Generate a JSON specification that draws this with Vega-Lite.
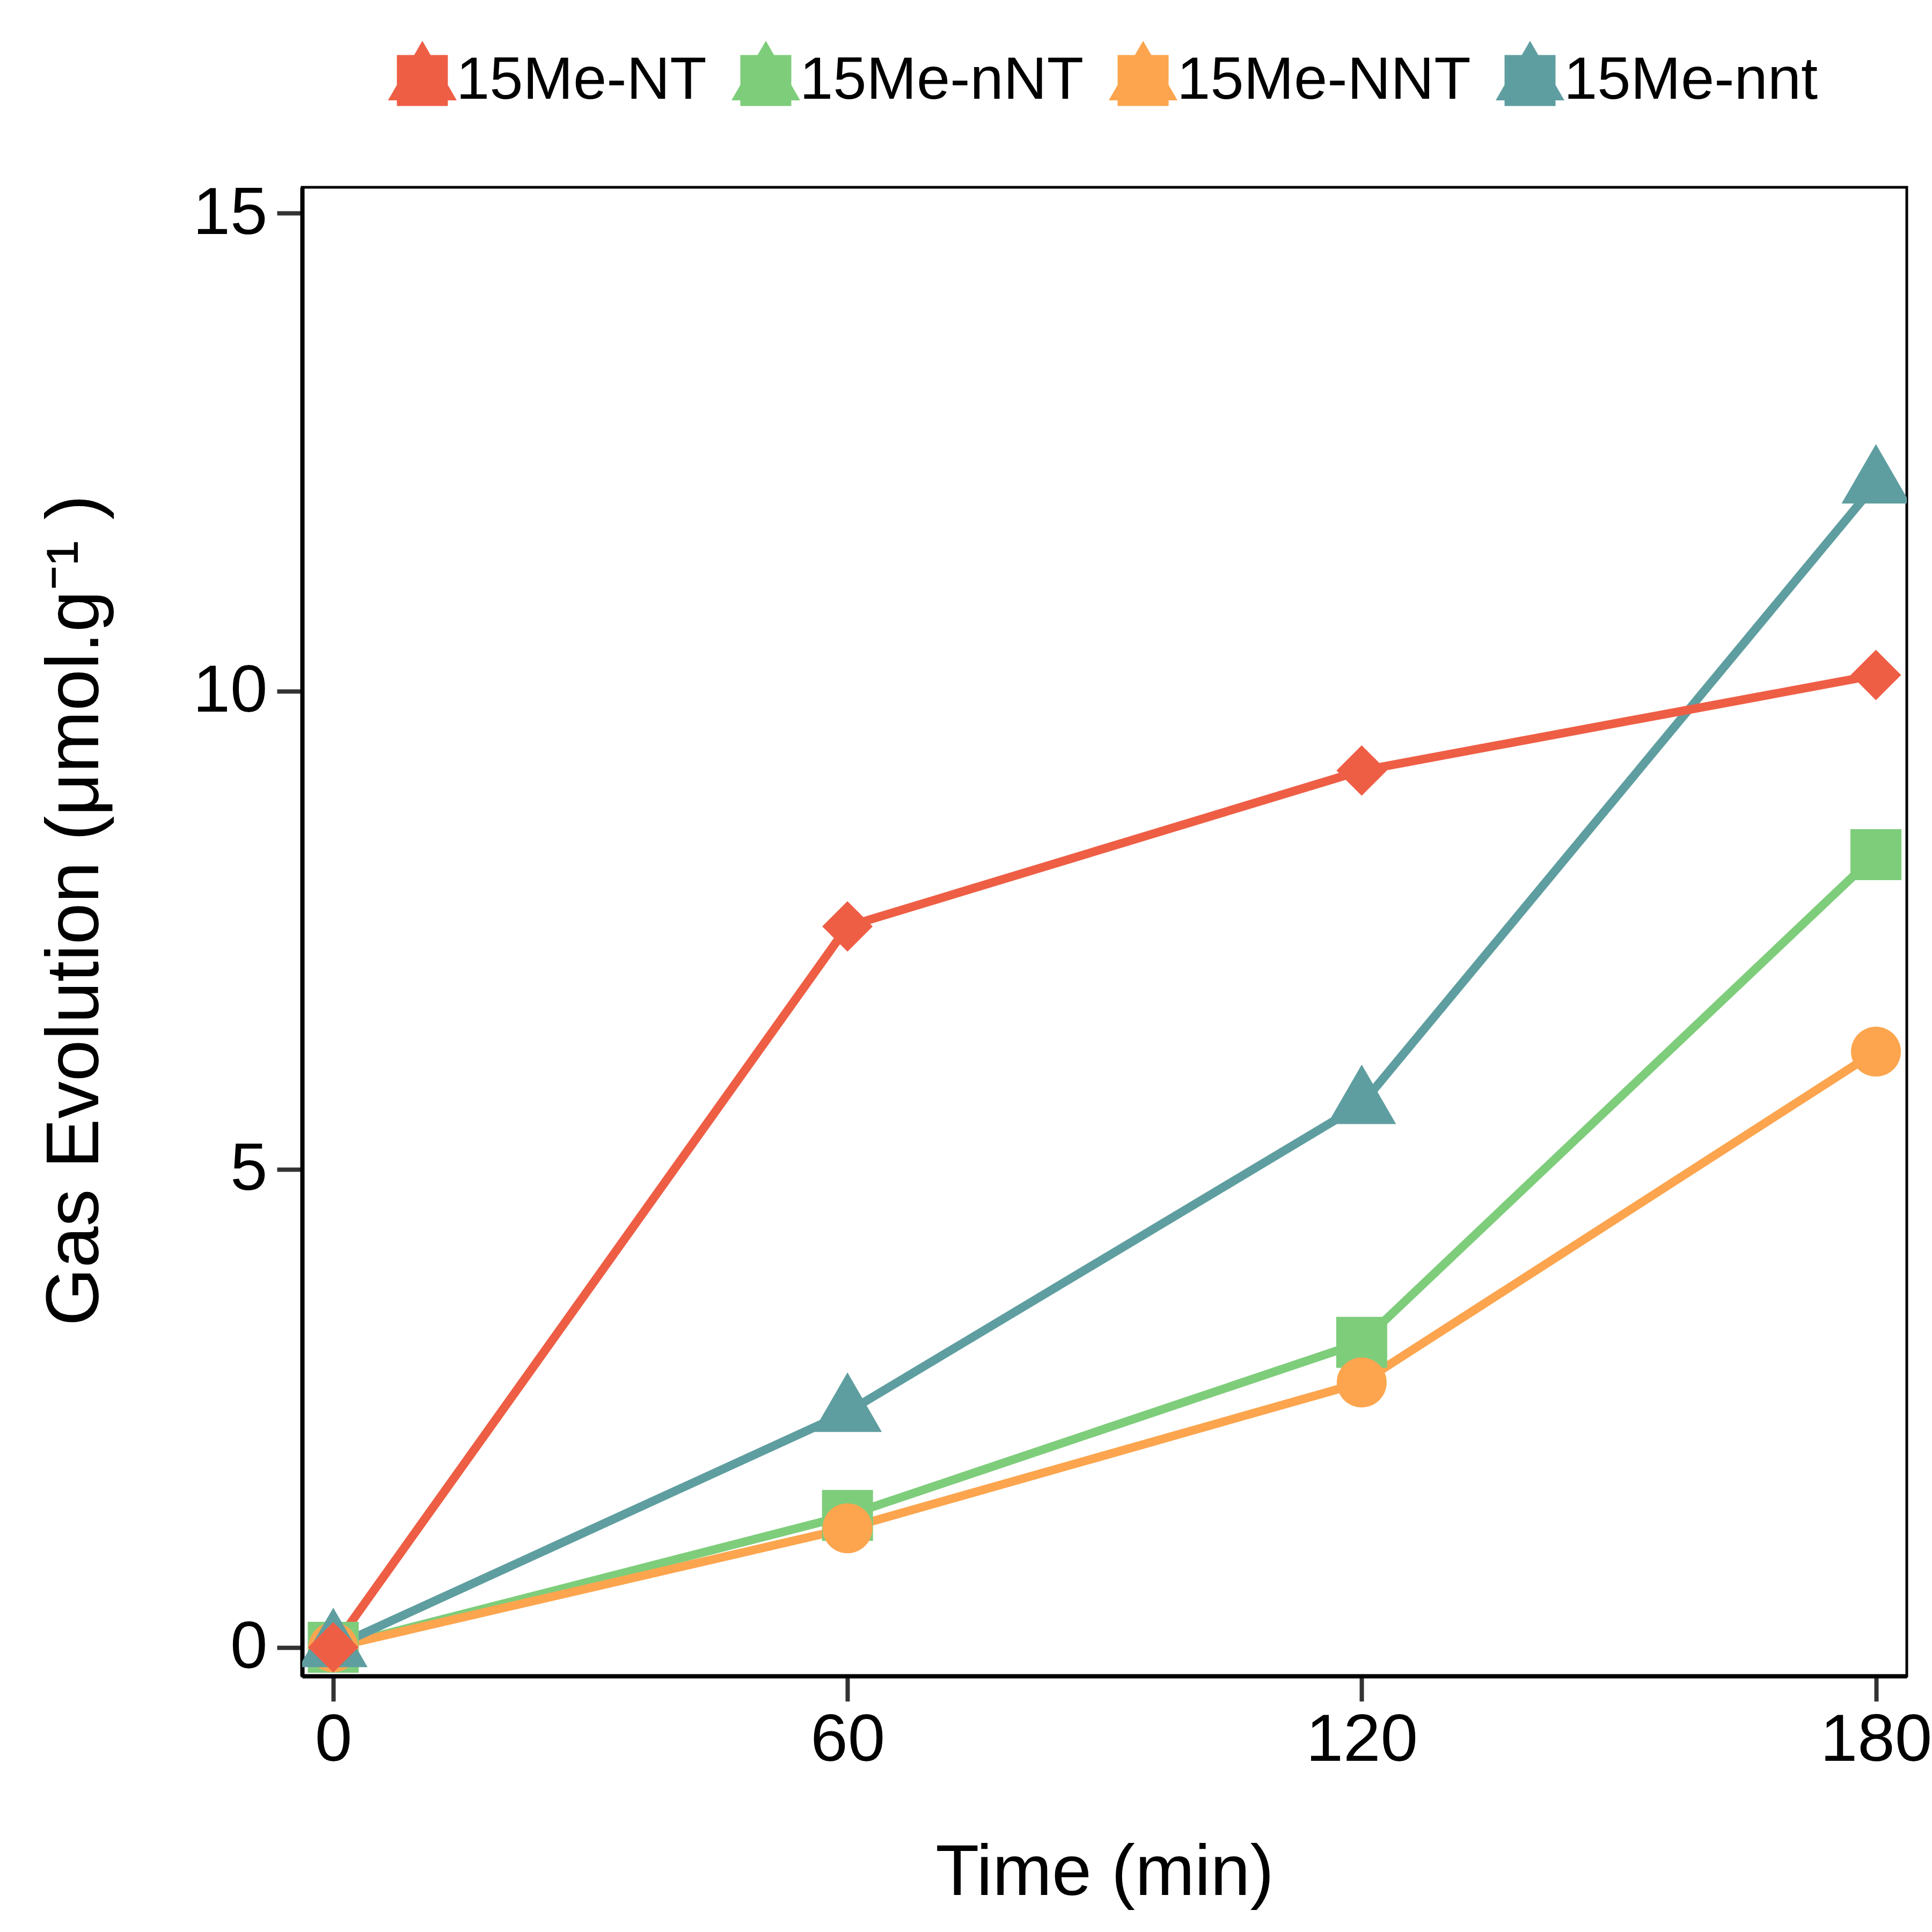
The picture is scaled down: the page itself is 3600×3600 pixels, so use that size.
{
  "$schema": "https://vega.github.io/schema/vega-lite/v6.json",
  "width": 2990,
  "height": 2774,
  "autosize": "none",
  "padding": {"left": 563, "top": 349, "right": 47, "bottom": 477},
  "background": "white",
  "config": {
    "font": "Liberation Sans",
    "view": {"stroke": "black", "strokeWidth": 5}
  },
  "data": {
    "values": [
      {"t": 0, "v": 0, "s": "15Me-nNT"},
      {"t": 60, "v": 1.38, "s": "15Me-nNT"},
      {"t": 120, "v": 3.19, "s": "15Me-nNT"},
      {"t": 180, "v": 8.29, "s": "15Me-nNT"},
      {"t": 0, "v": 0, "s": "15Me-NNT"},
      {"t": 60, "v": 1.245, "s": "15Me-NNT"},
      {"t": 120, "v": 2.77, "s": "15Me-NNT"},
      {"t": 180, "v": 6.23, "s": "15Me-NNT"},
      {"t": 0, "v": 0, "s": "15Me-nnt"},
      {"t": 60, "v": 2.46, "s": "15Me-nnt"},
      {"t": 120, "v": 5.68, "s": "15Me-nnt"},
      {"t": 180, "v": 12.17, "s": "15Me-nnt"},
      {"t": 0, "v": 0, "s": "15Me-NT"},
      {"t": 60, "v": 7.54, "s": "15Me-NT"},
      {"t": 120, "v": 9.17, "s": "15Me-NT"},
      {"t": 180, "v": 10.17, "s": "15Me-NT"}
    ]
  },
  "encoding": {
    "x": {
      "field": "t", "type": "quantitative",
      "scale": {"domain": [-3.63, 183.6], "nice": false, "zero": false},
      "axis": {
        "title": "Time (min)", "values": [0, 60, 120, 180], "format": "d",
        "grid": false, "domainColor": "black", "domainWidth": 8,
        "tickColor": "#333333", "tickWidth": 8, "tickSize": 47,
        "labelFontSize": 125, "labelColor": "black", "labelPadding": 11, "labelLimit": 0,
        "labelFlush": false, "labelOverlap": false,
        "titleFontSize": 133, "titleFontWeight": "normal", "titleColor": "black", "titleLimit": 0,
        "titleX": 1495, "titleY": 407, "titleBaseline": "alphabetic", "titleAlign": "center", "titleAnchor": null
      }
    },
    "y": {
      "field": "v", "type": "quantitative",
      "scale": {"domain": [-0.3, 15.27], "nice": false, "zero": false},
      "axis": {
        "title": "Gas Evolution (μmol.g⁻¹ )", "values": [0, 5, 10, 15], "format": "d",
        "grid": false, "domainColor": "black", "domainWidth": 8,
        "tickColor": "#333333", "tickWidth": 8, "tickSize": 47,
        "labelFontSize": 125, "labelColor": "black", "labelPadding": 18, "labelLimit": 0,
        "labelOverlap": false, "labelFlush": false,
        "titleFontSize": 139, "titleFontWeight": "normal", "titleColor": "black", "titleLimit": 0,
        "titleX": -381, "titleY": 1347, "titleBaseline": "alphabetic", "titleAlign": "center", "titleAngle": 270, "titleAnchor": null
      }
    },
    "color": {
      "field": "s", "type": "nominal",
      "scale": {
        "domain": ["15Me-NT", "15Me-nNT", "15Me-NNT", "15Me-nnt"],
        "range": ["#EE5E45", "#7ECD7B", "#FCA54E", "#5F9EA0"]
      },
      "legend": {
        "title": null, "orient": "none", "direction": "horizontal", "columns": 4,
        "legendX": 160, "legendY": -263,
        "symbolType": "M0,-1.155L1,0.577L-1,0.577Z M-0.742,-0.742L0.742,-0.742L0.742,0.742L-0.742,0.742Z",
        "symbolSize": 16384, "symbolStrokeWidth": 0, "symbolOpacity": 1,
        "labelFontSize": 112, "labelColor": "black", "labelOffset": -1, "labelLimit": 0,
        "columnPadding": 46, "padding": 0,
        "encode": {
          "symbols": {"update": {
            "fill": {"scale": "color", "field": "value"},
            "stroke": {"value": "transparent"},
            "opacity": {"value": 1}
          }}
        }
      }
    }
  },
  "layer": [
    {
      "mark": {"type": "line", "strokeWidth": 16, "clip": true},
      "encoding": {}
    },
    {
      "transform": [{"filter": "datum.s === '15Me-nNT'"}],
      "mark": {"type": "point", "filled": true, "opacity": 1, "strokeWidth": 0, "clip": true, "shape": "square", "size": 9025},
      "encoding": {}
    },
    {
      "transform": [{"filter": "datum.s === '15Me-NNT'"}],
      "mark": {"type": "point", "filled": true, "opacity": 1, "strokeWidth": 0, "clip": true, "shape": "circle", "size": 8649},
      "encoding": {}
    },
    {
      "transform": [{"filter": "datum.s === '15Me-nnt'"}],
      "mark": {"type": "point", "filled": true, "opacity": 1, "strokeWidth": 0, "clip": true, "shape": "M0,-1.155L1,0.577L-1,0.577Z", "size": 16384},
      "encoding": {}
    },
    {
      "transform": [{"filter": "datum.s === '15Me-NT'"}],
      "mark": {"type": "point", "filled": true, "opacity": 1, "strokeWidth": 0, "clip": true, "shape": "M-1,0L0,-1L1,0L0,1Z", "size": 8836},
      "encoding": {}
    }
  ]
}
